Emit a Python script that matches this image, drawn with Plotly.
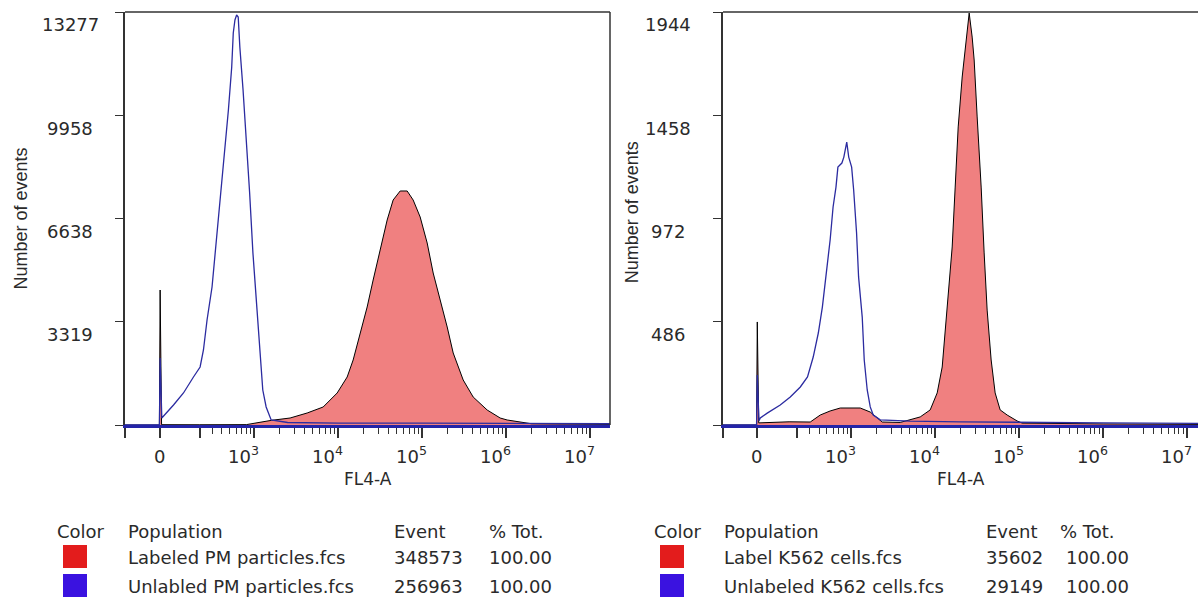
import numpy as np
import plotly.graph_objects as go

# ---------------- data (fluorescence FL4-A values, event counts) ----------------
lab_pm_x = [-170, -3, 0, 6, 200, 800, 1604, 2676, 4276, 6627, 9728, 12798, 15078, 18270,
            22131, 26083, 31601, 38289, 45129, 54690, 66257, 78098, 94635, 114669, 135174,
            163795, 198436, 233898, 307648, 404624, 593864, 847856, 1027216, 2000000, 17200000]
lab_pm_y = [0, 0, 4340, 10, 8, 12, 150, 225, 386, 579, 1029, 1543, 2090, 2958,
            3793, 4661, 5626, 6590, 7233, 7523, 7523, 7233, 6687, 5851, 4886,
            4019, 3150, 2315, 1447, 900, 482, 225, 161, 40, 20]

unl_pm_x = [-170, -3, 0, 7, 57, 104, 159, 202, 226, 254, 297, 327, 360, 400, 440, 482, 530,
            554, 581, 609, 637, 667, 730, 801, 877, 961, 1054, 1152, 1262, 1385, 1590, 2500,
            10000, 100000, 1000000, 17200000]
unl_pm_y = [0, 0, 2150, 225, 643, 1029, 1543, 1865, 2411, 3376, 4436, 5529, 6590, 7651, 8937,
            10127, 11509, 12602, 13020, 13181, 13116, 12152, 10770, 9162, 7458, 5529, 4019,
            2411, 1125, 579, 161, 80, 60, 60, 50, 40]

lab_k_x = [-165, -3, 0, 6, 150, 307, 414, 550, 732, 967, 1275, 1680, 2036, 2337, 3830, 6627,
           8717, 10561, 12114, 13148, 14277, 15930, 17298, 18784, 20960, 22756, 24036, 25392,
           27566, 29119, 31608, 35272, 38288, 41573, 46392, 51772, 59380, 71932, 94635, 108558,
           1000000, 13500000]
lab_k_y = [0, 0, 485, 10, 15, 14, 47, 66, 80, 80, 80, 61, 33, 14, 12, 38,
           71, 151, 273, 433, 621, 838, 1120, 1403, 1638, 1765, 1845, 1939,
           1826, 1718, 1450, 1120, 810, 541, 306, 151, 71, 47, 19, 9,
           5, 3]

unl_k_x = [-165, -3, 0, 7, 12.5, 42, 102, 157, 224, 282, 336, 391, 440, 492, 550, 598, 649, 685,
           766, 809, 877, 927, 1005, 1063, 1152, 1218, 1347, 1424, 1546, 1680, 1824, 2211, 5000,
           20000, 100000, 1000000, 13500000]
unl_k_y = [0, 0, 235, 20, 33, 56, 94, 132, 179, 226, 320, 433, 555, 715, 871, 1026, 1120, 1214,
           1233, 1261, 1332, 1261, 1214, 1106, 904, 697, 508, 306, 165, 85, 47, 24, 18,
           15, 12, 10, 8]

for a, b in [(lab_pm_x, lab_pm_y), (unl_pm_x, unl_pm_y), (lab_k_x, lab_k_y), (unl_k_x, unl_k_y)]:
    assert len(a) == len(b)

y_ticks_left = [0, 3319, 6638, 9958, 13277]
y_ticks_right = [0, 486, 972, 1458, 1944]
x_label_vals = [0, 1e3, 1e4, 1e5, 1e6, 1e7]
x_label_text = ["0", "10<sup>3</sup>", "10<sup>4</sup>", "10<sup>5</sup>", "10<sup>6</sup>", "10<sup>7</sup>"]

legend_header = ["Color", "Population", "Event", "% Tot."]
legend_left = [("Labeled PM particles.fcs", "348573", "100.00"),
               ("Unlabled PM particles.fcs", "256963", "100.00")]
legend_right = [("Label K562 cells.fcs", "35602", "100.00"),
                ("Unlabeled K562 cells.fcs", "29149", "100.00")]
legend_colors = ["#e31c1c", "#3a12e0"]

# ---------------- biexponential-like display scale ----------------
C = 152.0
def T(v):
    return np.arcsinh(np.asarray(v, dtype=float) / C) / np.log(10)

W, H = 1198, 601
FILL = "#f08080"
BLUE = "#2b2ba0"
TXT = "#2a2a2a"
TICKF = dict(family="DejaVu Sans", size=18, color=TXT)
LF = dict(family="DejaVu Sans", size=18, color=TXT)

fig = go.Figure()

PLOT_TOP, PLOT_BOTTOM = 12, 425
panels = [
    dict(ax="", lab=(lab_pm_x, lab_pm_y), unl=(unl_pm_x, unl_pm_y), xr=(-170, 1.72e7),
         yt=y_ticks_left, left=125, right=610, ytitle_shift=-105, ytitle_y=0.5, right_line=True,
         names=("Labeled PM particles.fcs", "Unlabled PM particles.fcs"),
         rows=legend_left, cols=(55, 126, 392, 487, 487), sw=63),
    dict(ax="2", lab=(lab_k_x, lab_k_y), unl=(unl_k_x, unl_k_y), xr=(-165, 1.35e7),
         yt=y_ticks_right, left=723, right=1198, ytitle_shift=-91, ytitle_y=0.515, right_line=False,
         names=("Label K562 cells.fcs", "Unlabeled K562 cells.fcs"),
         rows=legend_right, cols=(652, 722, 984, 1058, 1064), sw=660),
]

ydom = ((H - PLOT_BOTTOM) / H, (H - PLOT_TOP) / H)
minor_vals = [k * 10 ** e for e in range(2, 7) for k in range(2, 10) if not (e == 2 and k == 2)]

for p in panels:
    xa, ya = "x" + p["ax"], "y" + p["ax"]
    xd, yd = xa + " domain", ya + " domain"
    pw = p["right"] - p["left"]
    ph = PLOT_BOTTOM - PLOT_TOP

    def fx(pxl):
        return (pxl - p["left"]) / pw

    def fy(pyl):
        return (PLOT_BOTTOM - pyl) / ph

    lx, ly = p["lab"]
    ux, uy = p["unl"]
    fig.add_trace(go.Scatter(x=T(lx), y=ly, xaxis=xa, yaxis=ya, mode="lines",
                             line=dict(color="black", width=1), fill="tozeroy",
                             fillcolor=FILL, name=p["names"][0], showlegend=False))
    fig.add_trace(go.Scatter(x=T(ux), y=uy, xaxis=xa, yaxis=ya, mode="lines",
                             line=dict(color=BLUE, width=1.3), name=p["names"][1],
                             showlegend=False))
    xkey = "xaxis" + p["ax"]
    ykey = "yaxis" + p["ax"]
    x0v, x1v = float(T(p["xr"][0])), float(T(p["xr"][1]))
    major = [p["xr"][0], 0, 200] + x_label_vals[1:]
    fig.update_layout(**{
        xkey: dict(domain=[p["left"] / W, p["right"] / W], anchor=ya, range=[x0v, x1v],
                   showgrid=False, zeroline=False, showline=True, linecolor="#2424a8", linewidth=3,
                   ticks="outside", ticklen=10, tickwidth=1.5, tickcolor="#333",
                   tickmode="array", tickvals=[float(v) for v in T(major)], showticklabels=False,
                   minor=dict(tickmode="array", tickvals=[float(v) for v in T(minor_vals)],
                              ticks="outside", ticklen=6, tickwidth=1.2, tickcolor="#333")),
        ykey: dict(domain=list(ydom), anchor=xa, range=[0, p["yt"][-1]], showgrid=False,
                   zeroline=False, showline=True, linecolor="#333", linewidth=1.5,
                   ticks="outside", ticklen=8, tickwidth=1.3, tickcolor="#333",
                   tickmode="array", tickvals=p["yt"], showticklabels=False),
    })
    # frame lines
    fig.add_shape(type="line", xref=xd, yref=yd, x0=0, x1=1, y0=1, y1=1,
                  line=dict(color="#333", width=1.5))
    if p["right_line"]:
        fig.add_shape(type="line", xref=xd, yref=yd, x0=1, x1=1, y0=0, y1=1,
                      line=dict(color="#333", width=1.5))
    # y tick labels
    ymax = p["yt"][-1]
    for v in p["yt"][1:]:
        fig.add_annotation(xref=xd, x=0, xshift=-55, yref=yd, y=v / ymax, yshift=-13,
                           text=str(v), showarrow=False, xanchor="center", yanchor="middle",
                           font=TICKF)
    # x tick labels (placed through the display scale)
    for v, t in zip(x_label_vals, x_label_text):
        frac = (float(T(v)) - x0v) / (x1v - x0v)
        fig.add_annotation(xref=xd, x=frac, xshift=7, yref=yd, y=0, yshift=-44, text=t,
                           showarrow=False, xanchor="right", yanchor="bottom", font=TICKF)
    # axis titles
    fig.add_annotation(xref=xd, x=0.5, yref=yd, y=0, yshift=-54, text="FL4-A",
                       showarrow=False, xanchor="center", yanchor="middle",
                       font=dict(family="DejaVu Sans", size=17, color=TXT))
    fig.add_annotation(xref=xd, x=0, xshift=p["ytitle_shift"], yref=yd, y=p["ytitle_y"],
                       text="Number of events", textangle=-90, showarrow=False,
                       xanchor="center", yanchor="middle",
                       font=dict(family="Liberation Sans", size=18, color=TXT))

    # legend table below the panel
    cx, popx, evx, totx, valx = p["cols"]
    for text, x in zip(legend_header, [cx, popx, evx, totx]):
        fig.add_annotation(xref=xd, yref=yd, x=fx(x), y=fy(531), text=text,
                           showarrow=False, xanchor="left", yanchor="middle", font=LF)
    for i, (name, ev, tot) in enumerate(p["rows"]):
        yc = [557, 586][i]
        for text, x in [(name, popx), (ev, evx), (tot, valx)]:
            fig.add_annotation(xref=xd, yref=yd, x=fx(x), y=fy(yc), text=text,
                               showarrow=False, xanchor="left", yanchor="middle", font=LF)
        top = [545, 574][i]
        fig.add_shape(type="rect", xref=xd, yref=yd, x0=fx(p["sw"]), x1=fx(p["sw"] + 24),
                      y0=fy(top), y1=fy(top + 23), fillcolor=legend_colors[i],
                      line=dict(width=0))

fig.update_layout(width=W, height=H, margin=dict(l=0, r=0, t=0, b=0),
                  paper_bgcolor="white", plot_bgcolor="white", showlegend=False)

fig.write_html("out.html")
